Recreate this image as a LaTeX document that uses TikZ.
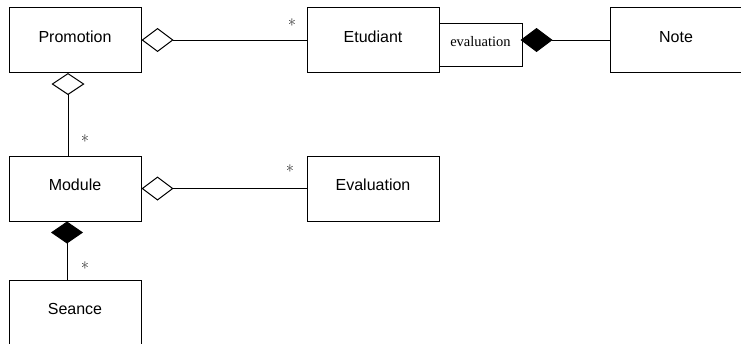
\documentclass[tikz,border=0pt]{standalone}
\usepackage{fontspec}
\setmainfont{Liberation Sans}
\newfontfamily\serifqual{Liberation Serif}
\newfontfamily\lmrast{Latin Modern Roman}
\usetikzlibrary{arrows.meta}
\begin{document}
\begin{tikzpicture}[x=1pt,y=-1pt,
  cls/.style={draw, line width=1pt, minimum width=132pt, minimum height=65pt,
    inner sep=0pt, font=\fontsize{16}{18}\selectfont, text height=11.5pt, text depth=7pt},
  qual/.style={draw, line width=1pt, minimum width=83pt, minimum height=43pt,
    inner sep=0pt, font=\serifqual\fontsize{14.5}{16}\selectfont, text height=10pt, text depth=7pt},
  mult/.style={font=\lmrast\fontsize{17}{18}\selectfont, inner sep=0pt},
  conn/.style={line width=1pt},
  agg/.style={conn, {Diamond[open, length=32pt, width=24pt, line width=1pt]}-},
  comp/.style={conn, {Diamond[length=32pt, width=24pt]}-},
  vagg/.style={conn, {Diamond[open, length=22pt, width=33pt, line width=1pt]}-},
  vcomp/.style={conn, {Diamond[length=22pt, width=32pt]}-}
]
\useasboundingbox (0,0) rectangle (741,343);
\node[cls] (promo) at (75,40) {Promotion};
\node[cls] (etud) at (373,40) {Etudiant};
\node[qual] (q) at (480.5,44.5) {evaluation};
\node[cls] (note) at (676,40) {Note};
\node[cls] (module) at (75,188.5) {Module};
\node[cls] (evalc) at (373,188.5) {Evaluation};
\node[cls] (seance) at (75,312.5) {Seance};

\draw[agg] (promo.east) -- (etud.west);
\draw[comp] ([xshift=-2pt]note.west -| q.east) -- (note.west);
\draw[vagg] ([xshift=-7pt]promo.south) -- ([xshift=-7pt]module.north);
\draw[agg] (module.east) -- (evalc.west);
\draw[vcomp] ([xshift=-8pt]module.south) -- ([xshift=-8pt]seance.north);

\node[mult] (m1) at (292,25) {*};
\node[mult] (m2) at (85,141) {*};
\node[mult] (m3) at (290,171) {*};
\node[mult] (m4) at (85,268) {*};
\end{tikzpicture}
\end{document}
